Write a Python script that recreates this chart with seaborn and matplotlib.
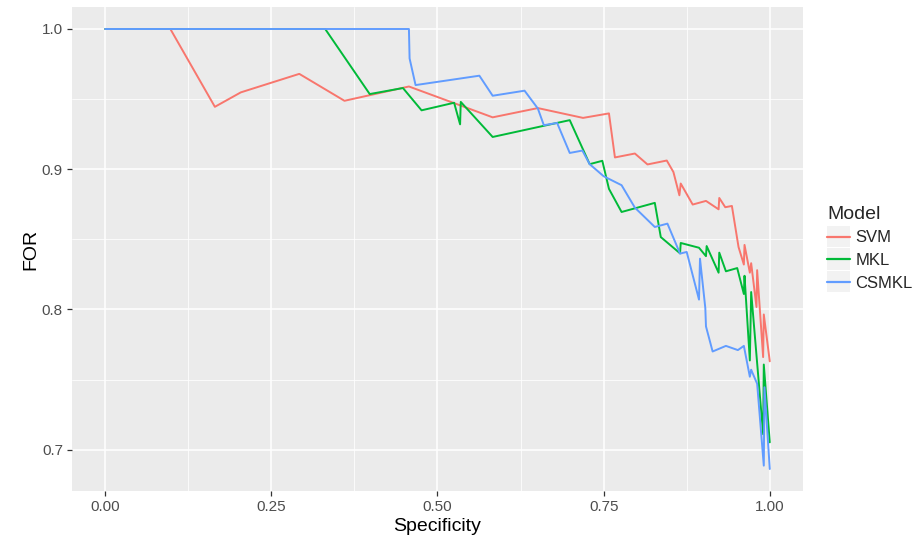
import numpy as np
import pandas as pd
import matplotlib
matplotlib.use("Agg")
import matplotlib.pyplot as plt
from matplotlib.patches import Rectangle
from matplotlib.legend_handler import HandlerLine2D
from matplotlib.ticker import FixedLocator, FormatStrFormatter
import seaborn as sns

# Specificity / FOR curves for each model
svm_spec = [0.0, 0.098, 0.165, 0.204, 0.292, 0.36, 0.457, 0.583, 0.651, 0.719, 0.758,
            0.767, 0.797, 0.816, 0.845, 0.855, 0.864, 0.866, 0.884, 0.904, 0.923, 0.924,
            0.933, 0.943, 0.953, 0.961, 0.962, 0.970, 0.972, 0.980, 0.981, 0.990, 0.991, 1.0]
svm_for = [1.0, 1.0, 0.9445, 0.9548, 0.968, 0.9488, 0.959, 0.937, 0.9436, 0.9366, 0.9398,
           0.9084, 0.9112, 0.9034, 0.9062, 0.898, 0.8814, 0.8898, 0.8748, 0.8774, 0.8714, 0.8795,
           0.8729, 0.8738, 0.8445, 0.832, 0.846, 0.8262, 0.833, 0.8017, 0.828, 0.766, 0.7964, 0.763]

mkl_spec = [0.0, 0.331, 0.398, 0.448, 0.476, 0.525, 0.534, 0.535, 0.583, 0.699, 0.729,
            0.748, 0.758, 0.777, 0.827, 0.836, 0.865, 0.866, 0.8935, 0.904, 0.905, 0.923,
            0.924, 0.934, 0.951, 0.961, 0.962, 0.970, 0.972, 0.990, 0.991, 1.0]
mkl_for = [1.0, 1.0, 0.9536, 0.9579, 0.942, 0.9474, 0.932, 0.948, 0.923, 0.935, 0.9036,
           0.906, 0.886, 0.8695, 0.876, 0.8516, 0.84, 0.8474, 0.844, 0.838, 0.8452, 0.8262,
           0.8405, 0.8272, 0.8295, 0.811, 0.824, 0.7636, 0.8124, 0.711, 0.7607, 0.7052]

csmkl_spec = [0.0, 0.457, 0.458, 0.467, 0.563, 0.583, 0.631, 0.651, 0.660, 0.680, 0.699,
              0.718, 0.729, 0.750, 0.777, 0.797, 0.827, 0.846, 0.865, 0.875, 0.8935, 0.895,
              0.903, 0.904, 0.914, 0.934, 0.952, 0.961, 0.970, 0.972, 0.981, 0.991, 0.992, 1.0]
csmkl_for = [1.0, 1.0, 0.979, 0.960, 0.9667, 0.9524, 0.956, 0.9433, 0.9314, 0.933, 0.9116,
             0.9133, 0.9036, 0.895, 0.8886, 0.8726, 0.8588, 0.8612, 0.8398, 0.841, 0.807, 0.8362,
             0.801, 0.7879, 0.770, 0.774, 0.771, 0.774, 0.752, 0.757, 0.747, 0.6886, 0.7445, 0.6862]

models = ["SVM", "MKL", "CSMKL"]
palette = {"SVM": "#F8766D", "MKL": "#00BA38", "CSMKL": "#619CFF"}

x_ticks = [0.0, 0.25, 0.5, 0.75, 1.0]
y_ticks = [0.7, 0.8, 0.9, 1.0]

frames = []
for name, xs, ys in [("SVM", svm_spec, svm_for),
                     ("MKL", mkl_spec, mkl_for),
                     ("CSMKL", csmkl_spec, csmkl_for)]:
    frames.append(pd.DataFrame({"Specificity": xs, "FOR": ys, "Model": name,
                                "order": np.arange(len(xs))}))
df = pd.concat(frames, ignore_index=True)

sns.set_theme(style="darkgrid")
plt.rcParams["font.family"] = ["Liberation Sans", "DejaVu Sans"]

fig = plt.figure(figsize=(9.23, 5.42), dpi=100)
ax = fig.add_axes([72 / 923, 1 - 491 / 542, (803 - 72) / 923, (491 - 7) / 542])

sns.lineplot(data=df, x="Specificity", y="FOR", hue="Model", hue_order=models,
             palette=palette, sort=False, estimator=None, units="Model",
             linewidth=1.4, ax=ax)

ax.set_facecolor("#EBEBEB")
fig.patch.set_facecolor("white")
for s in ax.spines.values():
    s.set_visible(False)

xmin, xmax = min(df["Specificity"]), max(df["Specificity"])
ymin, ymax = min(df["FOR"]), max(df["FOR"])
xr, yr = xmax - xmin, ymax - ymin
ax.set_xlim(xmin - 0.05 * xr, xmax + 0.05 * xr)
ax.set_ylim(ymin - 0.05 * yr, ymax + 0.05 * yr)

ax.xaxis.set_major_locator(FixedLocator(x_ticks))
ax.yaxis.set_major_locator(FixedLocator(y_ticks))
ax.xaxis.set_minor_locator(FixedLocator([0.125, 0.375, 0.625, 0.875]))
ax.yaxis.set_minor_locator(FixedLocator([0.75, 0.85, 0.95]))
ax.xaxis.set_major_formatter(FormatStrFormatter("%.2f"))
ax.yaxis.set_major_formatter(FormatStrFormatter("%.1f"))
ax.grid(which="major", color="white", linewidth=1.1)
ax.grid(which="minor", color="white", linewidth=0.55)
ax.set_axisbelow(True)
ax.tick_params(which="major", length=3.5, width=0.9, color="#333333",
               labelsize=11, labelcolor="#4D4D4D", pad=3, bottom=True, left=True)
ax.tick_params(which="minor", length=0)

ax.set_xlabel("Specificity", fontsize=14, color="black", labelpad=3)
ax.set_ylabel("FOR", fontsize=14, color="black", labelpad=2)


class KeyHandler(HandlerLine2D):
    def create_artists(self, legend, orig_handle, xdescent, ydescent,
                       width, height, fontsize, trans):
        pad = 3.5
        rect = Rectangle((-xdescent, -ydescent - pad), width, height + 2 * pad,
                         facecolor="#F2F2F2", edgecolor="none", transform=trans)
        arts = super().create_artists(legend, orig_handle, xdescent, ydescent,
                                      width, height, fontsize, trans)
        for a in arts:
            a.set_linewidth(1.6)
        return [rect] + arts


handles, labels = ax.get_legend_handles_labels()
leg = ax.legend(handles, labels, title="Model", loc="upper left",
                bbox_to_anchor=(822 / 923, 1 - 201 / 542), bbox_transform=fig.transFigure,
                frameon=False, fontsize=12, title_fontsize=14, handlelength=1.35,
                handletextpad=0.35, labelspacing=0.45, borderaxespad=0, borderpad=0.3,
                handler_map={type(handles[0]): KeyHandler()})
leg._legend_box.align = "left"

fig.savefig("out.png", dpi=100)
